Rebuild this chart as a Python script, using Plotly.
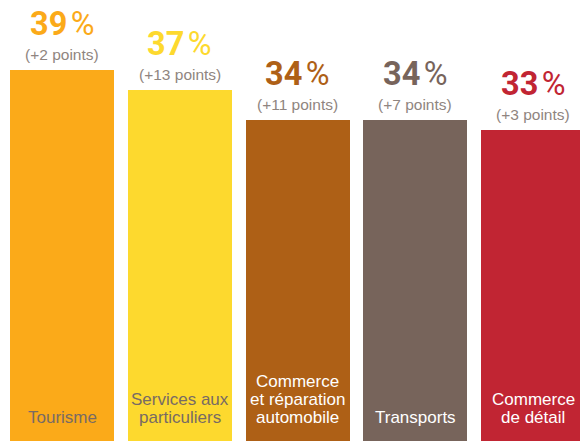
import plotly.graph_objects as go

# Share of companies per sector, with change in points
sectors = [
    ["Tourisme"],
    ["Services aux", "particuliers"],
    ["Commerce", "et réparation", "automobile"],
    ["Transports"],
    ["Commerce", "de détail"],
]
values = [39, 37, 34, 34, 33]
changes = ["(+2 points)", "(+13 points)", "(+11 points)", "(+7 points)", "(+3 points)"]
bar_colors = ["#FBAA19", "#FDD92E", "#AE6016", "#77645B", "#C12533"]
label_colors = ["#786B64", "#786B64", "#FFFFFF", "#FFFFFF", "#FFFFFF"]

W, H = 580, 441
x_pos = list(range(len(values)))

fig = go.Figure()
fig.add_trace(go.Bar(
    x=x_pos,
    y=values,
    base=0,
    width=0.883,
    marker=dict(color=bar_colors, line=dict(width=0)),
    hoverinfo="skip",
))

annotations = []
big = "Roboto, Liberation Sans, Arial, sans-serif"
sans = "Liberation Sans, Arial, Helvetica, sans-serif"

for i, (v, ch, col) in enumerate(zip(values, changes, bar_colors)):
    # big percentage above the bar (bold figure, light percent sign)
    annotations.append(dict(
        x=i, y=v, xref="x", yref="y",
        text=f"<b>{v}</b><span style='font-size:14px'> </span>%",
        showarrow=False, xanchor="center", yanchor="middle", yshift=46,
        font=dict(family=big, size=32.5, color=col),
    ))
    # change in points
    annotations.append(dict(
        x=i, y=v, xref="x", yref="y",
        text=ch,
        showarrow=False, xanchor="center", yanchor="middle", yshift=15.5,
        font=dict(family=sans, size=15.5, color="#8F8580"),
    ))

# sector names inside the bottom of each bar, one line per annotation
line_step = 18
last_line_mid = 417
for i, (lines, lc) in enumerate(zip(sectors, label_colors)):
    n = len(lines)
    for k, line in enumerate(lines):
        py = last_line_mid - (n - 1 - k) * line_step
        annotations.append(dict(
            x=i, y=1 - py / H, xref="x", yref="paper",
            text=line,
            showarrow=False, xanchor="center", yanchor="middle",
            font=dict(family=sans, size=17, color=lc),
        ))

fig.update_layout(
    width=W, height=H,
    margin=dict(l=0, r=0, t=0, b=0),
    paper_bgcolor="white", plot_bgcolor="white",
    showlegend=False,
    bargap=0,
    annotations=annotations,
    xaxis=dict(range=[-0.5265, 4.399], visible=False, fixedrange=True),
    yaxis=dict(range=[1.9, 46], visible=False, fixedrange=True),
)

fig.write_html("out.html", config={"displayModeBar": False})
